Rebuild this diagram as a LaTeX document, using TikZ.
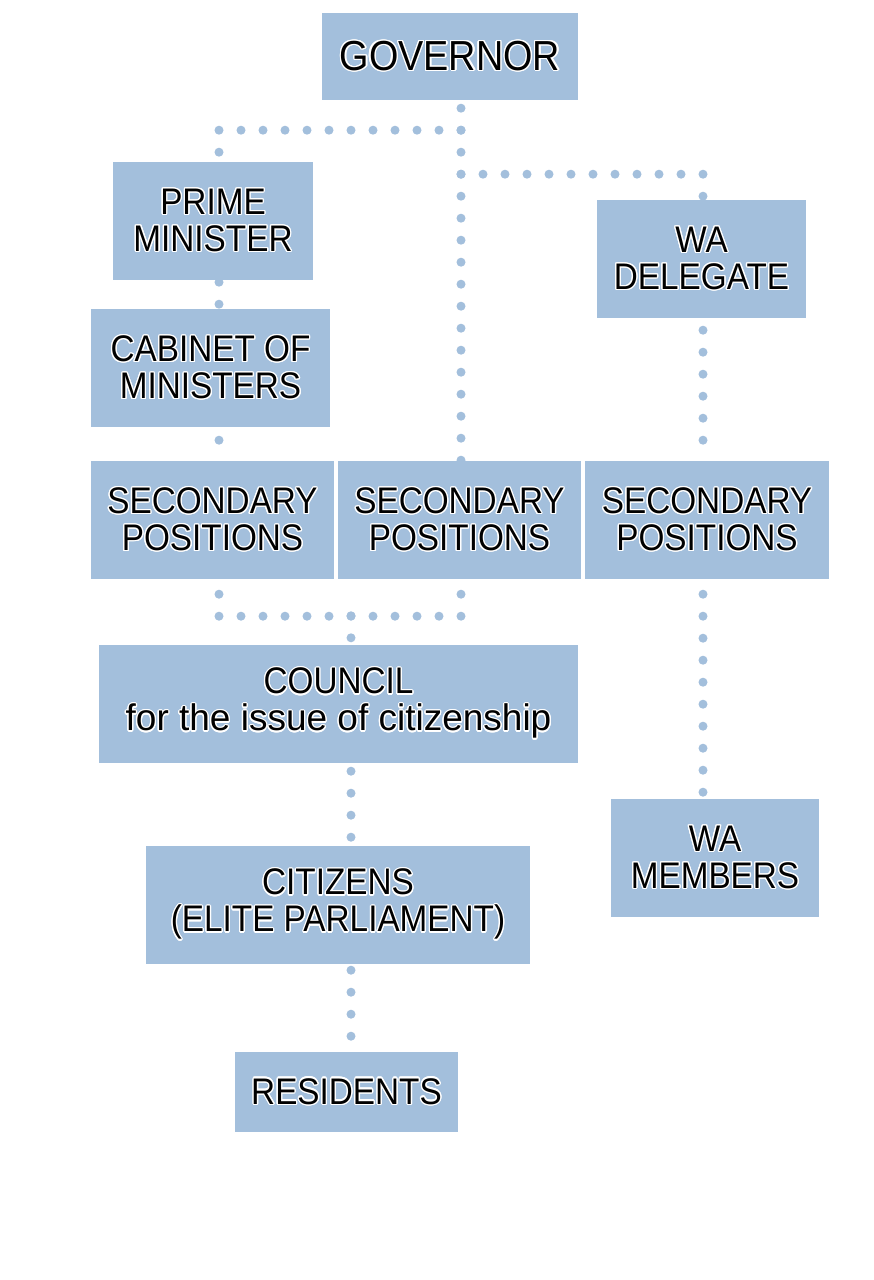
\documentclass[tikz,border=0pt]{standalone}
\usepackage{fontspec}
\setmainfont{Liberation Sans}[FakeStretch=0.9]
\newfontfamily\widefam{Liberation Sans}
\usepackage{contour}
\contourlength{1.3pt}
\usetikzlibrary{backgrounds}
\definecolor{boxc}{HTML}{A3BFDC}
\newcommand\ol[1]{\contour{white}{#1}}
\tikzset{
  box/.style={fill=boxc, inner sep=0pt, align=center, text=black,
    font=\fontsize{37}{37}\selectfont},
  dots/.style={draw=boxc, line width=9pt, line cap=round, dash pattern=on 0pt off 22pt},
}
\begin{document}
\begin{tikzpicture}[x=1pt,y=1pt]
\useasboundingbox (0,0) rectangle (873,-1280);
% boxes
\node[box, minimum width=256pt, minimum height=87pt, font=\fontsize{42}{42}\selectfont] (gov) at (450,-56.5) {\ol{GOVERNOR}};
\node[box, minimum width=200pt, minimum height=118pt] (pm) at (213,-221) {\ol{PRIME}\\\ol{MINISTER}};
\node[box, minimum width=209pt, minimum height=118pt] (wad) at (701.5,-259) {\ol{WA}\\\ol{DELEGATE}};
\node[box, minimum width=239pt, minimum height=118pt] (cab) at (210.5,-368) {\ol{CABINET OF}\\\ol{MINISTERS}};
\node[box, minimum width=243pt, minimum height=118pt] (sec1) at (212.5,-520) {\ol{SECONDARY}\\\ol{POSITIONS}};
\node[box, minimum width=243pt, minimum height=118pt] (sec2) at (459.5,-520) {\ol{SECONDARY}\\\ol{POSITIONS}};
\node[box, minimum width=244pt, minimum height=118pt] (sec3) at (707,-520) {\ol{SECONDARY}\\\ol{POSITIONS}};
\node[box, minimum width=479pt, minimum height=118pt] (coun) at (338.5,-704) {\ol{COUNCIL}\\\ol{\widefam for the issue of citizenship}};
\node[box, minimum width=208pt, minimum height=118pt] (wam) at (715,-858) {\ol{WA}\\\ol{MEMBERS}};
\node[box, minimum width=384pt, minimum height=118pt] (cit) at (338,-905) {\ol{CITIZENS}\\\ol{(ELITE PARLIAMENT)}};
\node[box, minimum width=223pt, minimum height=80pt] (res) at (346.5,-1092) {\ol{RESIDENTS}};
% connectors
\begin{scope}[on background layer]
\fill[white] (0,0) rectangle (873,-1280);
\draw[dots] ([xshift=11pt,yshift=-8pt]gov.south) -- ([xshift=1.5pt]sec2.north);
\draw[dots] ([xshift=11pt,yshift=-30pt]gov.south) -| ([xshift=6pt]pm.north);
\draw[dots] ([xshift=11pt,yshift=-74pt]gov.south) -| ([xshift=1.5pt]wad.north);
\draw[dots] ([xshift=6pt,yshift=-2pt]pm.south) -- ([xshift=8.5pt]cab.north);
\draw[dots] ([xshift=8.5pt,yshift=-13pt]cab.south) -- ([xshift=6.5pt]sec1.north);
\draw[dots] ([xshift=1.5pt,yshift=-12pt]wad.south) -- ([xshift=-4pt]sec3.north);
\draw[dots] ([xshift=6.5pt,yshift=-15pt]sec1.south) -- ([xshift=6.5pt,yshift=-37pt]sec1.south) -- ([xshift=1.5pt,yshift=-37pt]sec2.south) -- ([xshift=1.5pt,yshift=-15pt]sec2.south);
\draw[dots] ([xshift=12.5pt,yshift=29pt]coun.north) -- ([xshift=12.5pt]coun.north);
\draw[dots] ([xshift=12.5pt,yshift=-8pt]coun.south) -- ([xshift=13pt]cit.north);
\draw[dots] ([xshift=13pt,yshift=-6pt]cit.south) -- ([xshift=4.5pt]res.north);
\draw[dots] ([xshift=-4pt,yshift=-15pt]sec3.south) -- ([xshift=-12pt]wam.north);
\end{scope}
\end{tikzpicture}
\end{document}
